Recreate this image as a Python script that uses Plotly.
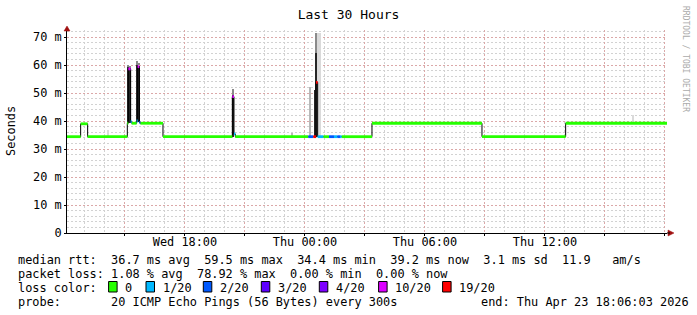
import plotly.graph_objects as go

START = "2026-04-22 12:06:03"
END = "2026-04-23 18:06:03"

# median rtt (ms): change points, value, loss level (x/20)
MED_T = ["2026-04-22 12:06", "2026-04-22 12:47", "2026-04-22 13:08", "2026-04-22 15:07",
         "2026-04-22 15:10", "2026-04-22 15:17", "2026-04-22 15:20", "2026-04-22 15:35",
         "2026-04-22 15:38", "2026-04-22 15:43", "2026-04-22 15:46", "2026-04-22 16:54",
         "2026-04-22 20:22", "2026-04-22 20:27", "2026-04-22 20:31", "2026-04-23 00:10",
         "2026-04-23 00:25", "2026-04-23 00:33", "2026-04-23 00:38", "2026-04-23 00:55",
         "2026-04-23 01:12", "2026-04-23 01:27", "2026-04-23 01:37", "2026-04-23 01:45",
         "2026-04-23 01:50", "2026-04-23 03:21", "2026-04-23 08:51", "2026-04-23 13:02"]
MED_V = [34.4, 39.0, 34.4, 39.2,
         58.6, 39.8, 39.2, 40.0,
         59.4, 39.5, 39.2, 34.4,
         48.7, 35.4, 34.4, 34.4,
         34.4, 53.8, 34.4, 34.4,
         34.4, 34.4, 34.4, 34.4,
         34.4, 39.2, 34.4, 39.2]
MED_LOSS = [0, 0, 0, 0,
            10, 1, 0, 1,
            10, 2, 0, 0,
            10, 1, 0, 2,
            19, 19, 1, 0,
            2, 1, 2, 1,
            0, 0, 0, 0]

# smoke (ping spread) bands: step centre, low, high, density level
SMOKE_T = ["2026-04-22 14:09", "2026-04-22 15:10", "2026-04-22 15:10", "2026-04-22 15:15",
           "2026-04-22 15:15", "2026-04-22 15:37:30", "2026-04-22 15:37:30", "2026-04-22 15:42:30",
           "2026-04-22 15:42:30", "2026-04-22 20:24", "2026-04-22 20:24", "2026-04-22 23:21",
           "2026-04-23 00:15", "2026-04-23 00:30", "2026-04-23 00:35", "2026-04-23 00:35",
           "2026-04-23 00:40", "2026-04-23 00:45", "2026-04-23 16:24"]
SMOKE_LO = [34.4, 39.2, 59.4, 39.2,
            59.0, 39.5, 60.0, 39.5,
            60.0, 34.4, 49.2, 34.4,
            34.4, 34.4, 34.4, 64.3,
            34.4, 34.4, 39.2]
SMOKE_HI = [36.8, 59.4, 59.8, 59.0,
            59.6, 60.0, 61.5, 59.6,
            60.4, 49.2, 51.3, 35.8,
            52.0, 51.0, 64.3, 71.5,
            71.5, 71.5, 42.0]
SMOKE_LVL = [1, 4, 3, 4,
             3, 4, 3, 4,
             3, 4, 3, 2,
             2, 4, 4, 3,
             1, 1, 1]

TICK_VALS = ["2026-04-22 15:00", "2026-04-22 18:00", "2026-04-22 21:00", "2026-04-23 00:00",
             "2026-04-23 03:00", "2026-04-23 06:00", "2026-04-23 09:00", "2026-04-23 12:00",
             "2026-04-23 15:00", "2026-04-23 18:00"]
TICK_TEXT = ["", "Wed 18:00", "", "Thu 00:00", "", "Thu 06:00", "", "Thu 12:00", "", "Thu 18:00"]
Y_TICKS = [0, 10, 20, 30, 40, 50, 60, 70]
Y_TEXT = ["0", "10 m", "20 m", "30 m", "40 m", "50 m", "60 m", "70 m"]

LOSS_LEVELS = [0, 1, 2, 3, 4, 10, 19]
LOSS_LABELS = ["0", "1/20", "2/20", "3/20", "4/20", "10/20", "19/20"]

STAT_RTT = "median rtt:  36.7 ms avg  59.5 ms max  34.4 ms min  39.2 ms now  3.1 ms sd  11.9   am/s"
STAT_LOSS = "packet loss: 1.08 % avg  78.92 % max  0.00 % min  0.00 % now"
PROBE = "probe:       20 ICMP Echo Pings (56 Bytes) every 300s"
END_TXT = "end: Thu Apr 23 18:06:03 2026"

# ---- styling ----
W, H = 697, 315
L, R, T, B = 67, 30, 30, 82
PW, PH = W - L - R, H - T - B
MONO = "DejaVu Sans Mono"
LOSS_COLORS = {0: "#26ff00", 1: "#00b8ff", 2: "#0059ff", 3: "#5e00ff",
               4: "#7e00ff", 10: "#dd00ff", 19: "#ff0000"}
SHADES = {1: "#dadada", 2: "#b8b8b8", 3: "#8a8a8a", 4: "#262626"}


def px(x):
    return (x - L) / PW


def py(y):
    return (H - B - y) / PH


def nb(s):
    return s.replace(" ", "\u00a0")


fig = go.Figure()

# smoke bars
for lvl in sorted(set(SMOKE_LVL)):
    idx = [i for i, v in enumerate(SMOKE_LVL) if v == lvl]
    fig.add_trace(go.Bar(
        x=[SMOKE_T[i] for i in idx],
        y=[SMOKE_HI[i] - SMOKE_LO[i] for i in idx],
        base=[SMOKE_LO[i] for i in idx],
        width=[300000] * len(idx),
        marker=dict(color=SHADES[lvl], line=dict(width=0)),
        showlegend=False, hoverinfo="skip"))

# median step line (black connectors)
fig.add_trace(go.Scatter(x=MED_T + [END], y=MED_V + [MED_V[-1]], mode="lines",
                         line=dict(color="#000000", width=1, shape="hv"),
                         showlegend=False, hoverinfo="skip"))

# median coloured by loss
seg_end = MED_T[1:] + [END]
for lvl in LOSS_LEVELS:
    xs, ys = [], []
    for i in range(len(MED_T)):
        if MED_LOSS[i] == lvl:
            xs += [MED_T[i], seg_end[i], None]
            ys += [MED_V[i], MED_V[i], None]
    if xs:
        fig.add_trace(go.Scatter(x=xs, y=ys, mode="lines",
                                 line=dict(color=LOSS_COLORS[lvl], width=2.8),
                                 showlegend=False, hoverinfo="skip"))

MAJ = "#dba8a8"
MIN = "#d2d2d2"
DASH = "2px,2px"
fig.update_layout(
    width=W, height=H, margin=dict(l=L, r=R, t=T, b=B, pad=0),
    paper_bgcolor="white", plot_bgcolor="white",
    font=dict(family=MONO, size=11.9, color="black"),
    showlegend=False, barmode="overlay", bargap=0,
    title=dict(text="Last 30 Hours", x=0.5, xref="container", xanchor="center",
               y=1 - 14 / H, yref="container", yanchor="middle",
               font=dict(family=MONO, size=13, color="black")),
    xaxis=dict(type="date", range=[START, END], tickmode="array",
               tickvals=TICK_VALS, ticktext=TICK_TEXT,
               showline=True, linecolor="black", linewidth=1,
               ticks="outside", ticklen=2, tickcolor="black",
               ticklabelstandoff=-4,
               showgrid=True, gridcolor=MAJ, griddash=DASH, gridwidth=1,
               zeroline=False, tickfont=dict(family=MONO, size=11.9),
               minor=dict(tickmode="linear", tick0="2026-04-22 00:00", dtick=3600000,
                          showgrid=True, gridcolor=MIN, griddash=DASH, gridwidth=1)),
    yaxis=dict(range=[0, 72.5], tickmode="array", tickvals=Y_TICKS, ticktext=Y_TEXT,
               showline=True, linecolor="black", linewidth=1,
               ticks="outside", ticklen=2, tickcolor="black",
               showgrid=True, gridcolor=MAJ, griddash=DASH, gridwidth=1,
               zeroline=False, tickfont=dict(family=MONO, size=11.9),
               minor=dict(tickmode="linear", tick0=0, dtick=2,
                          showgrid=True, gridcolor=MIN, griddash=DASH, gridwidth=1)),
)

ann = []
ann.append(dict(text="Seconds", x=px(11), y=py(131), xref="paper", yref="paper",
                textangle=-90, showarrow=False, xanchor="center", yanchor="middle",
                font=dict(family=MONO, size=11.9)))
ann.append(dict(text=nb("RRDTOOL / TOBI OETIKER"), x=px(686), y=py(59), xref="paper", yref="paper",
                textangle=90, showarrow=False, xanchor="center", yanchor="middle",
                font=dict(family=MONO, size=8, color="#aaaaaa")))
rows = [(STAT_RTT, 259.5), (STAT_LOSS, 273.7), ("loss color:", 287.5), (PROBE, 302)]
for txt, yy in rows:
    ann.append(dict(text=nb(txt), x=px(16), y=py(yy), xref="paper", yref="paper",
                    showarrow=False, xanchor="left", yanchor="middle",
                    font=dict(family=MONO, size=11.9)))
ann.append(dict(text=nb(END_TXT), x=px(478.5), y=py(302), xref="paper", yref="paper",
                showarrow=False, xanchor="left", yanchor="middle",
                font=dict(family=MONO, size=11.9)))

label_x = [123.3, 160.7, 218.0, 276.0, 334.0, 393.3, 457.3]
shapes = []
for lvl, lab, lx in zip(LOSS_LEVELS, LOSS_LABELS, label_x):
    ann.append(dict(text=lab, x=px(lx), y=py(287.5), xref="paper", yref="paper",
                    showarrow=False, xanchor="left", yanchor="middle",
                    font=dict(family=MONO, size=11.9)))
    sx = lx - 14.7
    shapes.append(dict(type="rect", xref="paper", yref="paper",
                       x0=px(sx), x1=px(sx + 8.5), y0=py(292), y1=py(281.5),
                       fillcolor=LOSS_COLORS[lvl], line=dict(color="black", width=1)))

# axis arrows
shapes.append(dict(type="path", xref="paper", yref="paper",
                   xsizemode="pixel", ysizemode="pixel", xanchor=0, yanchor=1,
                   path="M -3,-1 L 3,-1 L 0,4 Z", fillcolor="#a01010",
                   line=dict(color="#a01010", width=0.5)))
shapes.append(dict(type="path", xref="paper", yref="paper",
                   xsizemode="pixel", ysizemode="pixel", xanchor=1, yanchor=0,
                   path="M 1,-3 L 1,3 L 7,0 Z", fillcolor="#a01010",
                   line=dict(color="#a01010", width=0.5)))
shapes.append(dict(type="line", xref="paper", yref="paper", x0=1, x1=1 + 3 / PW, y0=0, y1=0,
                   line=dict(color="black", width=1)))

fig.update_layout(annotations=ann, shapes=shapes)
fig.write_html("out.html")
